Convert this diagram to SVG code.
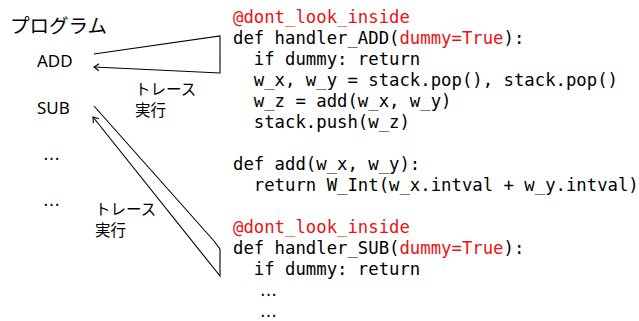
<svg xmlns="http://www.w3.org/2000/svg" width="639" height="321" viewBox="0 0 639 321">
<style>
.lbl{font-family:"Noto Sans","Noto Sans CJK JP",sans-serif;font-size:17px;fill:#000}
.jp{font-family:"Noto Sans CJK JP",sans-serif;font-size:15.5px;fill:#000}
.code{font-family:"DejaVu Sans Mono",monospace;font-size:17.3px;fill:#000;white-space:pre}
.red{fill:#ee1111}
.ell{font-family:"DejaVu Sans",sans-serif;font-size:17px;fill:#000}
.conn{fill:none;stroke:#000;stroke-width:1.1}
</style>
<defs>
<marker id="arr" markerWidth="10" markerHeight="10" refX="0" refY="0" viewBox="-8 -5 10 10" orient="auto" markerUnits="userSpaceOnUse">
<path d="M-5,-3.5 L0,0 L-5,3.5" fill="none" stroke="#000" stroke-width="1.1"/>
</marker>
</defs>
<g id="title"><text class="jp" x="10" y="33" style="font-size:19.5px">プログラム</text></g>
<g id="node-add"><text class="lbl" x="37" y="67">ADD</text></g>
<g id="node-sub"><text class="lbl" x="37" y="114">SUB</text></g>
<g id="node-dots1"><text class="ell" x="43" y="160">…</text></g>
<g id="node-dots2"><text class="ell" x="43" y="206">…</text></g>
<g id="label-trace1"><text class="jp" x="135" y="95">トレース</text><text class="jp" x="135" y="116">実行</text></g>
<g id="label-trace2"><text class="jp" x="95" y="215">トレース</text><text class="jp" x="95" y="236">実行</text></g>
<g id="connectors">
<polyline class="conn" points="94,54 220,36 220,73 94,67" marker-end="url(#arr)"/>
<polyline class="conn" points="94,106 214,241 220,249 220,276 93,117" marker-end="url(#arr)"/>
</g>
<g id="code">
<text class="code red" x="233" y="23">@dont_look_inside</text>
<text class="code" x="233" y="44">def handler_ADD(<tspan class="red">dummy=True</tspan>):</text>
<text class="code" x="233" y="65">  if dummy: return</text>
<text class="code" x="233" y="86">  w_x, w_y = stack.pop(), stack.pop()</text>
<text class="code" x="233" y="107">  w_z = add(w_x, w_y)</text>
<text class="code" x="233" y="128">  stack.push(w_z)</text>
<text class="code" x="233" y="170">def add(w_x, w_y):</text>
<text class="code" x="233" y="191">  return W_Int(w_x.intval + w_y.intval)</text>
<text class="code red" x="233" y="233">@dont_look_inside</text>
<text class="code" x="233" y="254">def handler_SUB(<tspan class="red">dummy=True</tspan>):</text>
<text class="code" x="233" y="275">  if dummy: return</text>
<text class="ell" x="260" y="296">…</text>
<text class="ell" x="260" y="317">…</text>
</g>
</svg>
